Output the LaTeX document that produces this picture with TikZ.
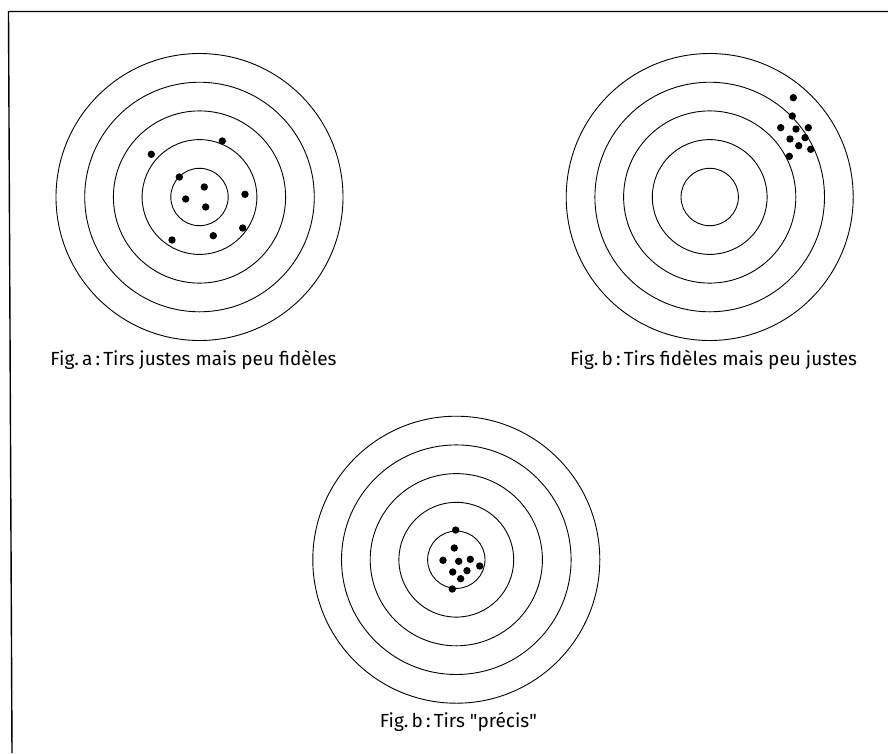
\documentclass[tikz,border=0pt]{standalone}
\usepackage{fontspec}
\setmainfont{Fira Sans}
\usepackage{tikz}
\usetikzlibrary{positioning}

\begin{document}
\begin{tikzpicture}[x=1pt,y=-1pt,
          ring/.style={draw=black,line width=0.9pt},
          shot/.style={fill=black},
          frame/.style={draw=black,line width=1.4pt},
          caption/.style={anchor=base,inner sep=0pt,font=\fontsize{19}{21}\selectfont}
        ]
          \useasboundingbox[fill=white] (0,0) rectangle (888,753);
          \draw[frame] (12,753) -- (8.5,11.5) -- (888,11.5);
          % cible a
          \coordinate (ta) at (199.5,197);
          \draw[ring] (ta) circle[radius=28.7] circle[radius=57.4] circle[radius=86.1] circle[radius=114.8] circle[radius=143.5];
          \fill[shot] (222.3,141) circle[radius=3.7] (151.3,154.3) circle[radius=3.7]
            (179.3,177) circle[radius=3.7] (204.3,187) circle[radius=3.7]
            (185.7,199) circle[radius=3.7] (205.7,207) circle[radius=3.7]
            (245,194.3) circle[radius=3.7] (242.7,228) circle[radius=3.7]
            (213.3,235.7) circle[radius=3.7] (172,240) circle[radius=3.7];
          \node[caption] (capa) at (193.5,365) {Fig.\,a\,:\,Tirs justes mais peu fidèles};
          % cible b
          \coordinate (tb) at (709.7,197);
          \draw[ring] (tb) circle[radius=28.7] circle[radius=57.4] circle[radius=86.1] circle[radius=114.8] circle[radius=143.5];
          \fill[shot] (793.3,97.7) circle[radius=3.7] (792.3,116) circle[radius=3.7]
            (780.7,127.7) circle[radius=3.7] (796,129) circle[radius=3.7]
            (808.3,127.7) circle[radius=3.7] (790,139) circle[radius=3.7]
            (805,137.7) circle[radius=3.7] (798.7,145.7) circle[radius=3.7]
            (810.7,149.3) circle[radius=3.7] (789.3,156.3) circle[radius=3.7];
          \node[caption] (capb) at (713.5,365) {Fig.\,b\,:\,Tirs fidèles mais peu justes};
          % cible c
          \coordinate (tc) at (456.3,559.7);
          \draw[ring] (tc) circle[radius=28.7] circle[radius=57.4] circle[radius=86.1] circle[radius=114.8] circle[radius=143.5];
          \fill[shot] (455.7,530) circle[radius=3.7] (454.3,548) circle[radius=3.7]
            (443,560.3) circle[radius=3.7] (458.7,561.3) circle[radius=3.7]
            (470.3,559.3) circle[radius=3.7] (479.7,566) circle[radius=3.7]
            (452.7,572) circle[radius=3.7] (467,570.7) circle[radius=3.7]
            (460.7,578.7) circle[radius=3.7] (452.3,589) circle[radius=3.7];
          \node[caption] (capc) at (458.4,727) {Fig.\,b\,:\,Tirs \textquotedbl précis\textquotedbl};
        \end{tikzpicture}
\end{document}
